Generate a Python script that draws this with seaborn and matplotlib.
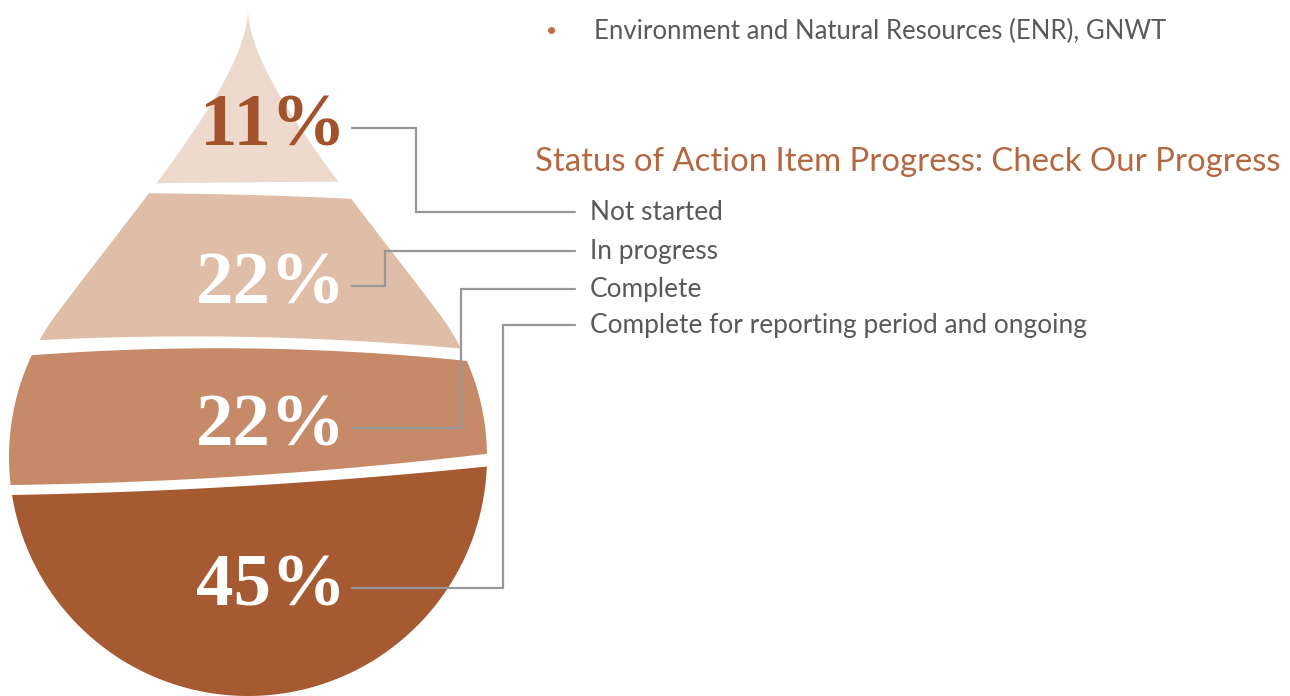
import numpy as np
import matplotlib
matplotlib.use("Agg")
import matplotlib.pyplot as plt
from matplotlib.patches import Polygon
import seaborn as sns

# data
statuses = ["Not started", "In progress", "Complete",
            "Complete for reporting period and ongoing"]
shares = [11, 22, 22, 45]
band_colors = ["#EDDACD", "#E0BDA7", "#C68A69", "#A55A32"]
pct_colors = ["#A3532B", "white", "white", "white"]
title = "Status of Action Item Progress: Check Our Progress"
source = "Environment and Natural Resources (ENR), GNWT"

sns.set_theme(style="white")
plt.rcParams['font.family'] = ['Lato', 'DejaVu Sans']

fig = plt.figure(figsize=(12.9, 6.96), dpi=100)
ax = fig.add_axes([0, 0, 1, 1])
ax.set_xlim(0, 1290)
ax.set_ylim(696, 0)
ax.axis('off')

# drop outline (pixel-like coords, y down)
cx, cy, r = 248, 457, 239
phi0 = np.arccos(0.6)
tip = np.array([248.0, 8.0])
T = np.array([cx + r * np.sin(phi0), cy - r * np.cos(phi0)])
P1 = tip + [0, 70]
P2 = T - 150 * np.array([np.cos(phi0), np.sin(phi0)])
t = np.linspace(0, 1, 80)[:, None]
right = (1 - t)**3 * tip + 3 * (1 - t)**2 * t * P1 + 3 * (1 - t) * t**2 * P2 + t**3 * T
phi = np.linspace(phi0, 2 * np.pi - phi0, 300)
arc = np.column_stack([cx + r * np.sin(phi), cy - r * np.cos(phi)])
left = right[::-1].copy()
left[:, 0] = 2 * cx - left[:, 0]
outline = np.vstack([right, arc, left])

# white gaps between the bands: upper and lower edge of each gap
gap_top = [[(156, 183.3), (248, 182.3), (339, 181.7)],
           [(43, 340), (233, 336.7), (458, 348.3)],
           [(11.7, 485), (233, 476.7), (485, 454)]]
gap_bot = [[(146.7, 193.3), (250, 195), (355, 199)],
           [(35, 355), (200, 348.3), (465, 360.7)],
           [(12.7, 495), (233, 486.7), (485, 466.7)]]


def curve(pts, xs):
    p = np.array(pts)
    return np.polyval(np.polyfit(p[:, 0], p[:, 1], 2), xs)


xs = np.linspace(-20, 520, 200)
for i, col in enumerate(band_colors):
    upper = curve(gap_bot[i - 1], xs) if i > 0 else np.full_like(xs, -10)
    lower = curve(gap_top[i], xs) if i < 3 else np.full_like(xs, 800)
    strip = np.vstack([np.column_stack([xs, upper]),
                       np.column_stack([xs[::-1], lower[::-1]])])
    band = Polygon(outline, closed=True, facecolor=col, edgecolor='none')
    ax.add_patch(band)
    band.set_clip_path(Polygon(strip, closed=True, transform=ax.transData))

# percentages, connectors and labels
baselines = [145, 303, 445, 605]
elbows = [416, 385, 461, 503]
label_y = [212, 251, 289, 325]
for i in range(4):
    ax.text(346, baselines[i], f"{shares[i]}%", ha='right', va='baseline',
            fontsize=54, fontweight='bold', family='Liberation Serif',
            color=pct_colors[i])
    y0 = baselines[i] - 17
    ax.plot([352, elbows[i], elbows[i], 575], [y0, y0, label_y[i], label_y[i]],
            color='#96989C', lw=1.6, solid_joinstyle='miter')
    ax.text(590, label_y[i], statuses[i], ha='left', va='center',
            fontsize=18.9, color='#595959')

ax.text(535, 162, title, ha='left', va='center', fontsize=23.7,
        color='#B5683F')
ax.text(552, 32, '\u2022', ha='center', va='center', fontsize=14,
        color='#C0714A')
ax.text(594, 31, source, ha='left', va='center', fontsize=18.5,
        color='#595959')

fig.savefig('out.png', dpi=100)
